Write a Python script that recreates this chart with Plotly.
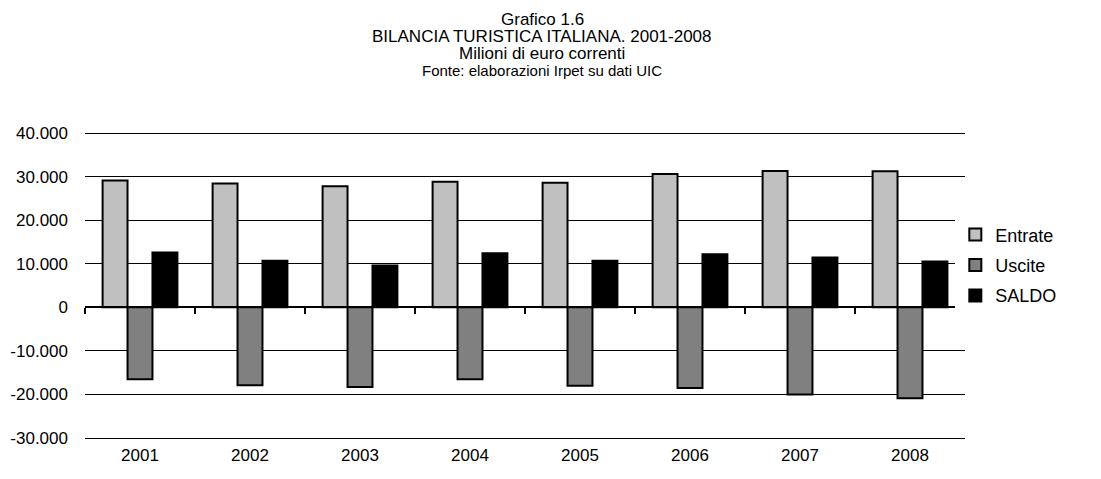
import plotly.graph_objects as go

anni = ["2001", "2002", "2003", "2004", "2005", "2006", "2007", "2008"]
entrate = [29100, 28400, 27800, 28800, 28600, 30600, 31300, 31200]
uscite = [-16500, -17900, -18300, -16500, -18000, -18500, -20000, -20900]
saldo = [12600, 10700, 9600, 12400, 10700, 12200, 11400, 10500]

y_ticks = [-30000, -20000, -10000, 0, 10000, 20000, 30000, 40000]
y_labels = ["-30.000", "-20.000", "-10.000", "0", "10.000", "20.000", "30.000", "40.000"]

titolo = ["Grafico 1.6", "BILANCIA TURISTICA ITALIANA. 2001-2008",
          "Milioni di euro correnti", "Fonte: elaborazioni Irpet su dati UIC"]

FONT = "Liberation Sans, Arial, sans-serif"
y_range = [-30460, 40460]
pos_zero = -y_range[0] / (y_range[1] - y_range[0])

fig = go.Figure()
for nome, vals, col in [("Entrate", entrate, "#c0c0c0"),
                        ("Uscite", uscite, "#808080"),
                        ("SALDO", saldo, "#000000")]:
    fig.add_trace(go.Bar(x=anni, y=vals, name=nome, legendgroup=nome,
                         marker=dict(color=col, line=dict(color="black", width=2))))

# titolo su quattro righe
shifts = [112, 95, 78, 61]
sizes = [17, 17, 17, 15]
for txt, sh, sz in zip(titolo, shifts, sizes):
    fig.add_annotation(text=txt, x=(534 - 77) / 880, xref="paper", y=1, yref="paper",
                       yanchor="middle", yshift=sh, showarrow=False,
                       font=dict(size=sz, color="black", family=FONT))

# la pagina ha 8px di margine: figura ridotta di conseguenza
fig.update_layout(
    width=1093, height=471,
    margin=dict(l=77, r=136, t=123, b=39),
    paper_bgcolor="white", plot_bgcolor="white",
    font=dict(family=FONT, size=17, color="black"),
    barmode="group", bargap=0.32, bargroupgap=0,
    showlegend=True,
    legend=dict(x=0.989, y=0.565, xanchor="left", yanchor="middle",
                font=dict(size=18), itemwidth=30,
                traceorder="grouped", tracegroupgap=4),
    xaxis=dict(type="category", anchor="free", position=pos_zero, automargin=False,
               showline=True, linecolor="black", linewidth=2,
               ticks="outside", ticklen=6, tickwidth=2, tickcolor="black",
               tickson="boundaries", ticklabelstandoff=132,
               showgrid=False, zeroline=False),
    xaxis2=dict(overlaying="x", anchor="free", position=pos_zero, type="linear",
                range=[-0.5, 7.5], tick0=-0.5, dtick=1, automargin=False,
                ticks="inside", ticklen=6, tickwidth=2, tickcolor="black",
                showticklabels=False, showgrid=False, zeroline=False, showline=False),
    yaxis=dict(range=y_range, tickvals=y_ticks, ticktext=y_labels, automargin=False,
               showgrid=True, gridcolor="#000000", gridwidth=1,
               zeroline=False, showline=False, ticks="", ticklabelstandoff=16),
)

fig.write_html("out.html")
